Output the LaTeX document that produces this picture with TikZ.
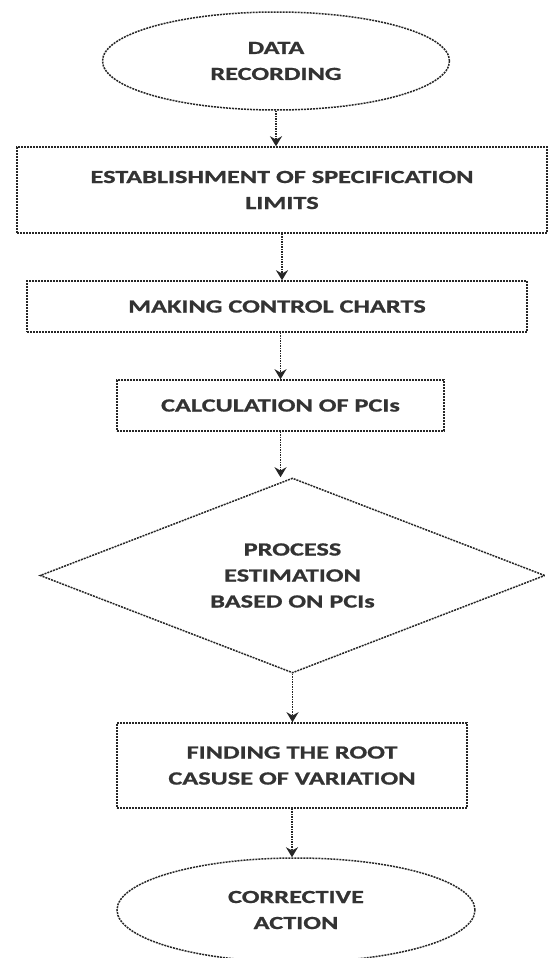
\documentclass[tikz,border=0pt]{standalone}
\usepackage{fontspec}
\setmainfont{Carlito}[FakeStretch=1.42, BoldFeatures={FakeBold=1.0}]
\usetikzlibrary{shapes.geometric,arrows.meta}
\begin{document}
\begin{tikzpicture}[x=1pt,y=-1pt,
  border/.style={draw=black!85, line width=1.5pt, dash pattern=on 2pt off 1pt, fill=white,
     font=\fontsize{18.5}{26}\selectfont\bfseries, align=center, inner sep=0pt, text=black!80},
  oval/.style={border, ellipse},
  stepbox/.style={border, rectangle},
  choice/.style={border, diamond, shape aspect=2.6},
  conn/.style={draw=black!85, line width=1.7pt, dash pattern=on 1.5pt off 1pt, -{Stealth[length=10pt,width=12pt]}}
]
\useasboundingbox (0,0) rectangle (550,958);
\node[oval, minimum width=347pt, minimum height=98pt] (rec) at (276,61) {DATA\\RECORDING};
\node[stepbox, minimum width=530pt, minimum height=86pt] (spec) at (282,190) {ESTABLISHMENT OF SPECIFICATION\\LIMITS};
\node[stepbox, minimum width=500pt, minimum height=51pt] (chart) at (277,306.5) {MAKING CONTROL CHARTS};
\node[stepbox, minimum width=327pt, minimum height=51pt] (pci) at (280.5,405.5) {CALCULATION OF PCIs};
\node[choice, minimum width=505pt, minimum height=195pt] (est) at (292.5,575.5) {PROCESS\\ESTIMATION\\BASED ON PCIs};
\node[stepbox, minimum width=350pt, minimum height=85pt] (root) at (292,765.5) {FINDING THE ROOT\\CASUSE OF VARIATION};
\node[oval, minimum width=358pt, minimum height=104pt] (act) at (296,910) {CORRECTIVE\\ACTION};
\draw[conn] (rec.south) -- (rec.south |- spec.north);
\draw[conn] (spec.south) -- (spec.south |- chart.north);
\draw[conn] (pci.north |- chart.south) -- (pci.north);
\draw[conn] (pci.south) -- (pci.south |- est.north);
\draw[conn] (est.south) -- (est.south |- root.north);
\draw[conn] (root.south) -- (root.south |- act.north);
\end{tikzpicture}
\end{document}
